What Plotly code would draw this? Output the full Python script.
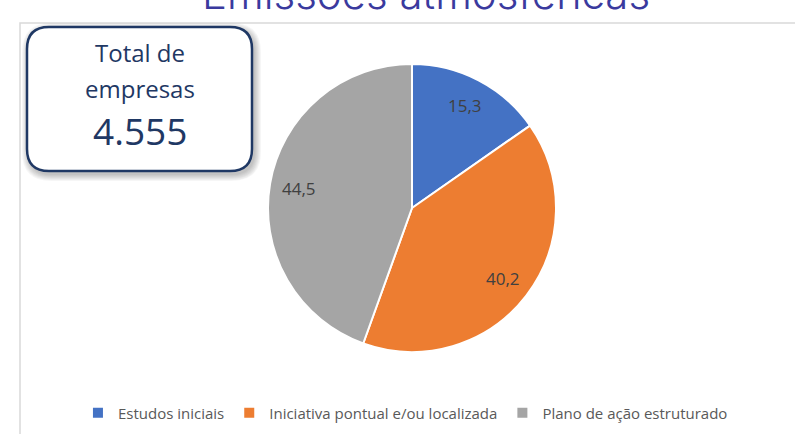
import plotly.graph_objects as go
import math

# ---- data ----
categories = ["Estudos iniciais", "Iniciativa pontual e/ou localizada", "Plano de ação estruturado"]
values = [15.3, 40.2, 44.5]
colors = ["#4472C4", "#ED7D31", "#A5A5A5"]
title_text = "Emissões atmosféricas"
box_lines = ["Total de", "empresas"]
box_total = "4.555"

W, H = 795, 434
# pie geometry (pixels)
cx, cy, R = 412, 208, 144

fig = go.Figure()

fig.add_trace(go.Pie(
    labels=categories, values=values, sort=False, direction="clockwise", rotation=0,
    marker=dict(colors=colors, line=dict(color="white", width=2)),
    textinfo="none", hoverinfo="label+value",
    domain=dict(x=[(cx - R) / W, (cx + R) / W], y=[1 - (cy + R) / H, 1 - (cy - R) / H]),
    showlegend=True,
))

# data labels placed at slice mid-angles computed from values
total = sum(values)
cum = 0
annotations = []
for v in values:
    mid = (cum + v / 2) / total * 2 * math.pi
    cum += v
    r = 0.8 * R
    x = cx + r * math.sin(mid)
    y = cy - r * math.cos(mid)
    annotations.append(dict(x=x, y=y, xref="x", yref="y", text=f"{v:.1f}".replace(".", ","),
                            showarrow=False, font=dict(family="Open Sans", size=17, color="#404040")))

# title (cut off at the top in the reference)
annotations.append(dict(x=426 / W, y=1 + 7 / H, xref="paper", yref="paper", text=title_text,
                        showarrow=False, yanchor="middle", xanchor="center",
                        font=dict(family="Inter", size=42, weight=300, color="#3A3A9E")))

# box text
annotations.append(dict(x=140, y=52, xref="x", yref="y", text=box_lines[0], showarrow=False,
                        font=dict(family="Open Sans", size=24, color="#1F3864")))
annotations.append(dict(x=140, y=88, xref="x", yref="y", text=box_lines[1], showarrow=False,
                        font=dict(family="Open Sans", size=24, color="#1F3864")))
annotations.append(dict(x=140, y=130, xref="x", yref="y", text=box_total, showarrow=False,
                        font=dict(family="Open Sans", size=37, color="#1F3864")))


def rrect(x0, y0, x1, y1, r):
    return (f"M {x0+r},{y0} L {x1-r},{y0} Q {x1},{y0} {x1},{y0+r} L {x1},{y1-r} "
            f"Q {x1},{y1} {x1-r},{y1} L {x0+r},{y1} Q {x0},{y1} {x0},{y1-r} "
            f"L {x0},{y0+r} Q {x0},{y0} {x0+r},{y0} Z")

shapes = []
# chart frame
shapes.append(dict(type="path", xref="x", yref="y", path=f"M 20,{H+5} L 20,23 L {W+5},23",
                   line=dict(color="#D9D9D9", width=1.5), layer="below"))
# shadow
for i in range(1, 8):
    shapes.append(dict(type="path", xref="x", yref="y",
                       path=rrect(27 - i + 2, 27 - i + 3, 252 + i + 2, 171 + i + 3, 22 + i),
                       fillcolor="rgba(0,0,0,0.035)", line=dict(width=0), layer="below"))
# box
shapes.append(dict(type="path", xref="x", yref="y", path=rrect(27, 27, 252, 171, 22),
                   fillcolor="white", line=dict(color="#1F3864", width=2.5), layer="below"))

fig.update_layout(
    width=W, height=H, margin=dict(l=0, r=0, t=0, b=0),
    paper_bgcolor="white", plot_bgcolor="white",
    xaxis=dict(range=[0, W], visible=False, fixedrange=True),
    yaxis=dict(range=[H, 0], visible=False, fixedrange=True),
    annotations=annotations, shapes=shapes,
    legend=dict(orientation="h", x=0.51, xanchor="center", y=1 - 413 / H, yanchor="middle",
                font=dict(family="Open Sans", size=15, color="#595959"), itemwidth=30,
                bgcolor="rgba(0,0,0,0)"),
)

fig.write_html("out.html", config={"displayModeBar": False},
               post_script="document.body.style.margin='0';document.body.style.overflow='hidden';")
